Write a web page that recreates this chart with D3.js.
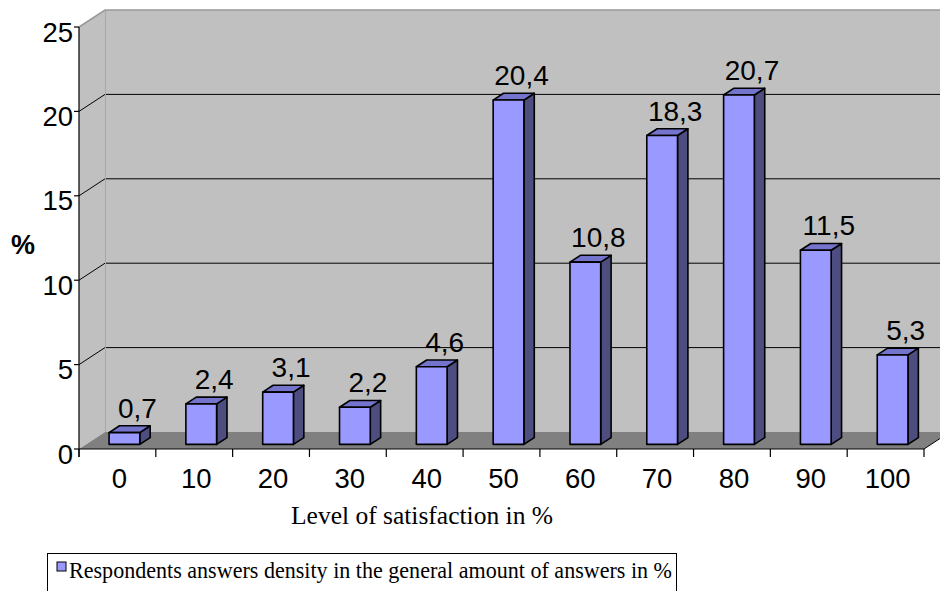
<!DOCTYPE html>
<html>
<head>
<meta charset="utf-8">
<script src="https://cdn.jsdelivr.net/npm/d3@7"></script>
<style>
  html, body { margin: 0; padding: 0; background: #ffffff; }
  svg { display: block; }
</style>
</head>
<body>
<svg id="chart" width="940" height="591"></svg>
<script>
// Satisfaction levels (category axis)
const categories = ["0", "10", "20", "30", "40", "50", "60", "70", "80", "90", "100"];
// Share of answers at each level, %
const values = [0.7, 2.4, 3.1, 2.2, 4.6, 20.4, 10.8, 18.3, 20.7, 11.5, 5.3];
// Value axis ticks
const yTicks = [0, 5, 10, 15, 20, 25];
// Data label text
const valueLabels = ["0,7", "2,4", "3,1", "2,2", "4,6", "20,4", "10,8", "18,3", "20,7", "11,5", "5,3"];
const axisTitleX = "Level of satisfaction in %";
const axisTitleY = "%";
const legendText = "Respondents answers density in the general amount of answers in %";

const svg = d3.select("#chart");

// front plane of the plot box
const plotLeft = 79, plotRight = 924, plotBottom = 449, plotTop = 27;
// oblique depth of the box (back minus front)
const depth = { dx: 26, dy: -17 };
// bars sit between these fractions of the depth
const f1 = 0.27, f2 = 0.67;

const y = d3.scaleLinear().domain([0, 25]).range([plotBottom, plotTop]);
const x = d3.scaleBand().domain(categories).range([plotLeft, plotRight])
  .paddingInner(0.6).paddingOuter(0.3);
const step = x.step();

const wallColor = "#c0c0c0";
const floorColor = "#808080";
const frontColor = "#9999ff";
const topColor = "#7474cc";
const sideColor = "#4d4d80";

const poly = pts => "M" + pts.map(p => p.join(",")).join("L") + "Z";

// back wall
svg.append("path")
  .attr("d", poly([[plotLeft + depth.dx, y(25) + depth.dy], [960, y(25) + depth.dy],
                   [960, y(0) + depth.dy], [plotLeft + depth.dx, y(0) + depth.dy]]))
  .attr("fill", wallColor);
// side wall
svg.append("path")
  .attr("d", poly([[plotLeft, y(25)], [plotLeft + depth.dx, y(25) + depth.dy],
                   [plotLeft + depth.dx, y(0) + depth.dy], [plotLeft, y(0)]]))
  .attr("fill", wallColor);

// gridlines on both walls
const grid = svg.append("g");
yTicks.filter(v => v > 0 && v < 25).forEach(v => {
  grid.append("line")
    .attr("x1", plotLeft + depth.dx).attr("x2", 960)
    .attr("y1", y(v) + depth.dy).attr("y2", y(v) + depth.dy)
    .attr("stroke", "#000").attr("stroke-width", 1);
  grid.append("line")
    .attr("x1", plotLeft).attr("y1", y(v))
    .attr("x2", plotLeft + depth.dx).attr("y2", y(v) + depth.dy)
    .attr("stroke", "#000").attr("stroke-width", 1);
});

// wall edges
svg.append("line")
  .attr("x1", plotLeft + depth.dx + 0.5).attr("x2", plotLeft + depth.dx + 0.5)
  .attr("y1", y(25) + depth.dy).attr("y2", y(0) + depth.dy)
  .attr("stroke", "#a8a8a8").attr("stroke-width", 1);
svg.append("path")
  .attr("d", `M${plotLeft},${y(25)}L${plotLeft + depth.dx},${y(25) + depth.dy}L960,${y(25) + depth.dy}`)
  .attr("fill", "none").attr("stroke", "#999").attr("stroke-width", 1.5);

// floor
svg.append("path")
  .attr("d", poly([[plotLeft, y(0)], [plotLeft + depth.dx, y(0) + depth.dy],
                   [plotRight + depth.dx, y(0) + depth.dy], [plotRight, y(0)]]))
  .attr("fill", floorColor);
svg.append("line")
  .attr("x1", plotRight).attr("y1", y(0))
  .attr("x2", plotRight + depth.dx).attr("y2", y(0) + depth.dy)
  .attr("stroke", "#000").attr("stroke-width", 1);

// value axis
const yAxis = svg.append("g");
yAxis.append("line")
  .attr("x1", plotLeft).attr("x2", plotLeft).attr("y1", y(25)).attr("y2", y(0) + 8)
  .attr("stroke", "#000").attr("stroke-width", 1.2);
yAxis.selectAll("line.tick").data(yTicks).join("line")
  .attr("class", "tick")
  .attr("x1", plotLeft - 5).attr("x2", plotLeft)
  .attr("y1", d => y(d)).attr("y2", d => y(d))
  .attr("stroke", "#000").attr("stroke-width", 1.2);
yAxis.selectAll("text").data(yTicks).join("text")
  .attr("x", plotLeft - 6).attr("y", d => y(d) + 14.5)
  .attr("text-anchor", "end")
  .attr("font-family", "Liberation Sans, Arial, sans-serif")
  .attr("font-size", 27.5)
  .text(d => d);

// category axis
const xAxis = svg.append("g");
xAxis.append("line")
  .attr("x1", plotLeft).attr("x2", plotRight).attr("y1", y(0)).attr("y2", y(0))
  .attr("stroke", "#000").attr("stroke-width", 1.2);
xAxis.selectAll("line.tick").data(d3.range(categories.length + 1)).join("line")
  .attr("class", "tick")
  .attr("x1", i => plotLeft + i * step).attr("x2", i => plotLeft + i * step)
  .attr("y1", y(0)).attr("y2", y(0) + 8)
  .attr("stroke", "#000").attr("stroke-width", 1.2);
xAxis.selectAll("text").data(categories).join("text")
  .attr("x", d => x(d) + x.bandwidth() / 2 + 2)
  .attr("y", 488)
  .attr("text-anchor", "middle")
  .attr("font-family", "Liberation Sans, Arial, sans-serif")
  .attr("font-size", 27.5)
  .text(d => d);

// 3D columns
const bw = x.bandwidth();
const fdx = depth.dx * f1, fdy = depth.dy * f1;
const sdx = depth.dx * (f2 - f1), sdy = depth.dy * (f2 - f1);
const bars = svg.append("g").selectAll("g").data(values).join("g");
bars.each(function (v, i) {
  const g = d3.select(this);
  const x0 = x(categories[i]) + fdx;
  const yb = y(0) + fdy;
  const yt = y(v) + fdy;
  const face = (d, fill) => g.append("path").attr("d", d).attr("fill", fill)
    .attr("stroke", "#000").attr("stroke-width", 1.6).attr("stroke-linejoin", "round");
  face(poly([[x0 + bw, yb], [x0 + bw + sdx, yb + sdy], [x0 + bw + sdx, yt + sdy], [x0 + bw, yt]]), sideColor);
  face(poly([[x0, yt], [x0 + sdx, yt + sdy], [x0 + bw + sdx, yt + sdy], [x0 + bw, yt]]), topColor);
  face(poly([[x0, yb], [x0, yt], [x0 + bw, yt], [x0 + bw, yb]]), frontColor);
});

// value labels
svg.append("g").selectAll("text").data(values).join("text")
  .attr("x", (v, i) => x(categories[i]) + fdx + bw / 2 + 13)
  .attr("y", v => y(v) + fdy - 15)
  .attr("text-anchor", "middle")
  .attr("font-family", "Liberation Sans, Arial, sans-serif")
  .attr("font-size", 28)
  .text((v, i) => valueLabels[i]);

// axis titles
svg.append("text")
  .attr("x", 23).attr("y", 254)
  .attr("text-anchor", "middle")
  .attr("font-family", "Liberation Sans, Arial, sans-serif")
  .attr("font-weight", "bold")
  .attr("font-size", 27)
  .text(axisTitleY);
svg.append("text")
  .attr("x", 422).attr("y", 524)
  .attr("text-anchor", "middle")
  .attr("font-family", "Liberation Serif, Times New Roman, serif")
  .attr("font-size", 25.5)
  .text(axisTitleX);

// legend
const legend = svg.append("g");
legend.append("rect")
  .attr("x", 47.5).attr("y", 553.5).attr("width", 629).attr("height", 45)
  .attr("fill", "#fff").attr("stroke", "#000").attr("stroke-width", 1);
legend.append("rect")
  .attr("x", 57).attr("y", 562).attr("width", 9).attr("height", 9)
  .attr("fill", frontColor).attr("stroke", "#000").attr("stroke-width", 1);
legend.append("text")
  .attr("x", 69).attr("y", 578)
  .attr("font-family", "Liberation Serif, Times New Roman, serif")
  .attr("font-size", 22.5)
  .attr("textLength", 603)
  .attr("lengthAdjust", "spacingAndGlyphs")
  .text(legendText);
</script>
</body>
</html>
